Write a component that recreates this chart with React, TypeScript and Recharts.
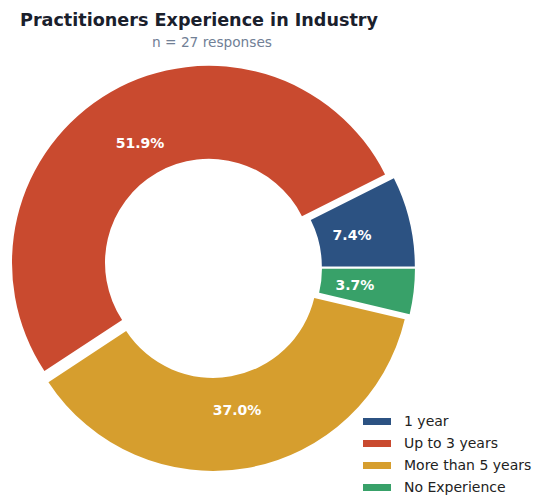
import React from "react";
import { PieChart, Pie, Cell, Sector } from "recharts";

const categories = ["1 year", "Up to 3 years", "More than 5 years", "No Experience"];
const counts = [2, 14, 10, 1];
const colors = ["#2c5282", "#c94a2f", "#d69e2e", "#38a169"];

const chartData = categories.map((name, i) => ({ name, value: counts[i] }));

const EXPLODE = 6;
const FONT = "'DejaVu Sans', sans-serif";

// shift each sector outward along its mid angle (matplotlib-style explode)
const ExplodedSector = (props: any) => {
  const rad = (-props.midAngle * Math.PI) / 180;
  const dx = EXPLODE * Math.cos(rad);
  const dy = EXPLODE * Math.sin(rad);
  return <Sector {...props} cx={props.cx + dx} cy={props.cy + dy} stroke="none" />;
};

const renderLabel = (props: any) => {
  const { cx, cy, midAngle, outerRadius, percent } = props;
  const r = outerRadius * 0.7 + EXPLODE;
  const rad = (-midAngle * Math.PI) / 180;
  return (
    <text
      x={cx + r * Math.cos(rad)}
      y={cy + r * Math.sin(rad)}
      fill="#ffffff"
      textAnchor="middle"
      dominantBaseline="central"
      style={{ fontFamily: FONT, fontSize: 14, fontWeight: "bold" }}
    >
      {(percent * 100).toFixed(1)}%
    </text>
  );
};

export default function App() {
  return (
    <div style={{ position: "absolute", left: 0, top: 0, width: 550, height: 503, background: "#fff" }}>
      <div
        style={{
          position: "absolute",
          left: 20,
          top: 10,
          fontFamily: FONT,
          fontWeight: "bold",
          fontSize: 17.6,
          color: "#1a202c",
          whiteSpace: "nowrap",
        }}
      >
        Practitioners Experience in Industry
      </div>
      <div
        style={{
          position: "absolute",
          left: 0,
          width: 424,
          top: 34,
          textAlign: "center",
          fontFamily: FONT,
          fontSize: 13.7,
          color: "#718096",
        }}
      >
        n = 27 responses
      </div>
      <PieChart
        width={550}
        height={503}
        margin={{ top: 0, right: 0, bottom: 0, left: 0 }}
        style={{ position: "absolute", left: 0, top: 0 }}
      >
        <Pie
          data={chartData}
          dataKey="value"
          nameKey="name"
          cx={212}
          cy={268}
          innerRadius={104}
          outerRadius={197}
          startAngle={0}
          endAngle={360}
          stroke="none"
          shape={ExplodedSector}
          label={renderLabel}
          labelLine={false}
          isAnimationActive={false}
        >
          {chartData.map((d, i) => (
            <Cell key={d.name} fill={colors[i]} />
          ))}
        </Pie>
      </PieChart>
      <div style={{ position: "absolute", left: 363, top: 410 }}>
        {categories.map((c, i) => (
          <div key={c} style={{ display: "flex", alignItems: "center", height: 22 }}>
            <div style={{ width: 28, height: 7, background: colors[i], marginRight: 13 }} />
            <span style={{ fontFamily: FONT, fontSize: 14, color: "#222" }}>{c}</span>
          </div>
        ))}
      </div>
    </div>
  );
}
